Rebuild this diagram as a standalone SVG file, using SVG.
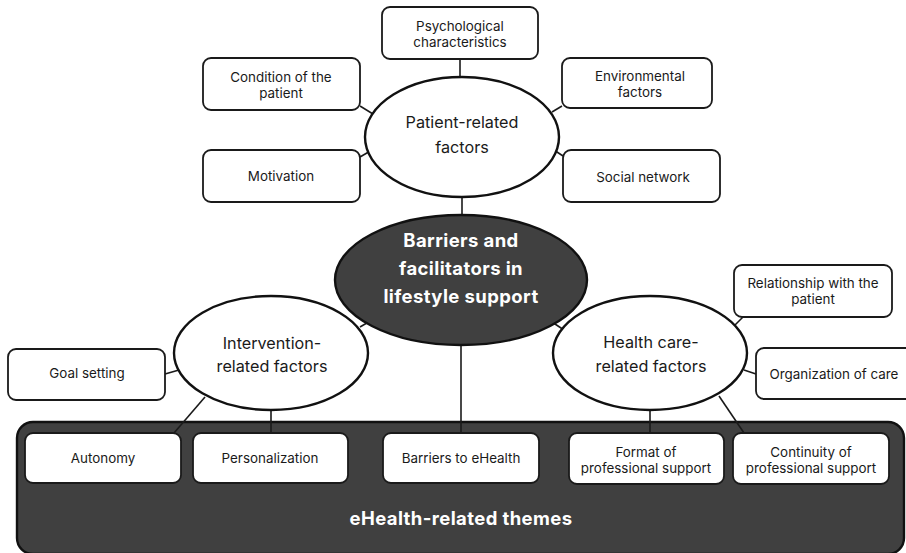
<svg xmlns="http://www.w3.org/2000/svg" width="906" height="553" viewBox="0 0 906 553">
<style>
.box{fill:#fff;stroke:#1a1a1a;stroke-width:1.8}
.ell{fill:#fff;stroke:#111;stroke-width:2.4}
.dark{fill:#404040;stroke:#111;stroke-width:2.4}
.t{font-family:Inter,"Noto Sans","Liberation Sans",sans-serif;font-size:13.4px;fill:#1a1a1a;text-anchor:middle;dominant-baseline:central}
.te{font-family:Inter,"Noto Sans","Liberation Sans",sans-serif;font-size:16.2px;fill:#1a1a1a;text-anchor:middle;dominant-baseline:central}
.tb{font-family:Inter,"Noto Sans","Liberation Sans",sans-serif;font-size:18.5px;letter-spacing:0.4px;font-weight:700;fill:#fff;text-anchor:middle;dominant-baseline:central}
.c{stroke:#1a1a1a;stroke-width:1.6;fill:none}
</style>
<rect width="906" height="553" fill="#fff"/>
<g id="panel">
<rect x="17" y="422" width="887" height="132" rx="16" class="dark"/>
<text x="461" y="518" class="tb">eHealth-related themes</text>
</g>
<g id="connectors">
<line x1="460" y1="59" x2="460" y2="78" class="c"/>
<line x1="360" y1="106" x2="373" y2="114" class="c"/>
<line x1="360" y1="157" x2="372" y2="150" class="c"/>
<line x1="562" y1="106" x2="552" y2="112" class="c"/>
<line x1="563" y1="156" x2="554" y2="150" class="c"/>
<line x1="462" y1="196" x2="462" y2="216" class="c"/>
<line x1="360" y1="327" x2="372" y2="320" class="c"/>
<line x1="552" y1="322" x2="564" y2="330" class="c"/>
<line x1="461" y1="345" x2="461" y2="433" class="c"/>
<line x1="165" y1="374" x2="179" y2="370" class="c"/>
<line x1="205" y1="397" x2="174" y2="433" class="c"/>
<line x1="271" y1="410" x2="271" y2="433" class="c"/>
<line x1="743" y1="317" x2="735" y2="325" class="c"/>
<line x1="756" y1="374" x2="744" y2="370" class="c"/>
<line x1="650" y1="410" x2="650" y2="433" class="c"/>
<line x1="719" y1="396" x2="744" y2="433" class="c"/>
</g>
<g id="psychological">
<rect x="382" y="7" width="156" height="52" rx="8" class="box"/>
<text x="460" y="26" class="t">Psychological</text>
<text x="460" y="42" class="t">characteristics</text>
</g>
<g id="condition">
<rect x="203" y="58" width="157" height="52" rx="8" class="box"/>
<text x="281" y="77" class="t">Condition of the</text>
<text x="281" y="93" class="t">patient</text>
</g>
<g id="environmental">
<rect x="562" y="58" width="150" height="50" rx="8" class="box"/>
<text x="640" y="76" class="t">Environmental</text>
<text x="640" y="92" class="t">factors</text>
</g>
<g id="motivation">
<rect x="203" y="150" width="157" height="52" rx="8" class="box"/>
<text x="281" y="176" class="t">Motivation</text>
</g>
<g id="social">
<rect x="563" y="150" width="157" height="52" rx="8" class="box"/>
<text x="643" y="177" class="t">Social network</text>
</g>
<g id="patient">
<ellipse cx="462" cy="137" rx="97" ry="60" class="ell"/>
<text x="462" y="122" class="te">Patient-related</text>
<text x="462" y="147" class="te">factors</text>
</g>
<g id="central">
<ellipse cx="461" cy="280" rx="126" ry="65" class="dark"/>
<text x="461" y="240" class="tb">Barriers and</text>
<text x="461" y="268" class="tb">facilitators in</text>
<text x="461" y="296" class="tb">lifestyle support</text>
</g>
<g id="intervention">
<ellipse cx="271" cy="353" rx="97" ry="57" class="ell"/>
<text x="272" y="343" class="te">Intervention-</text>
<text x="272" y="366" class="te">related factors</text>
</g>
<g id="healthcare">
<ellipse cx="650" cy="353" rx="97" ry="57" class="ell"/>
<text x="651" y="342" class="te">Health care-</text>
<text x="651" y="366" class="te">related factors</text>
</g>
<g id="goal">
<rect x="8" y="349" width="157" height="51" rx="8" class="box"/>
<text x="87" y="373" class="t">Goal setting</text>
</g>
<g id="relationship">
<rect x="734" y="265" width="158" height="52" rx="8" class="box"/>
<text x="813" y="283" class="t">Relationship with the</text>
<text x="813" y="299" class="t">patient</text>
</g>
<g id="organization">
<rect x="756" y="348" width="160" height="51" rx="8" class="box"/>
<text x="834" y="374" class="t">Organization of care</text>
</g>
<g id="autonomy">
<rect x="25" y="433" width="156" height="50" rx="8" class="box"/>
<text x="103" y="458" class="t">Autonomy</text>
</g>
<g id="personalization">
<rect x="193" y="433" width="155" height="50" rx="8" class="box"/>
<text x="270" y="458" class="t">Personalization</text>
</g>
<g id="barriers">
<rect x="383" y="433" width="156" height="50" rx="8" class="box"/>
<text x="461" y="458" class="t">Barriers to eHealth</text>
</g>
<g id="format">
<rect x="569" y="433" width="155" height="51" rx="8" class="box"/>
<text x="646" y="452" class="t">Format of</text>
<text x="646" y="468" class="t">professional support</text>
</g>
<g id="continuity">
<rect x="733" y="433" width="156" height="51" rx="8" class="box"/>
<text x="811" y="452" class="t">Continuity of</text>
<text x="811" y="468" class="t">professional support</text>
</g>
</svg>
